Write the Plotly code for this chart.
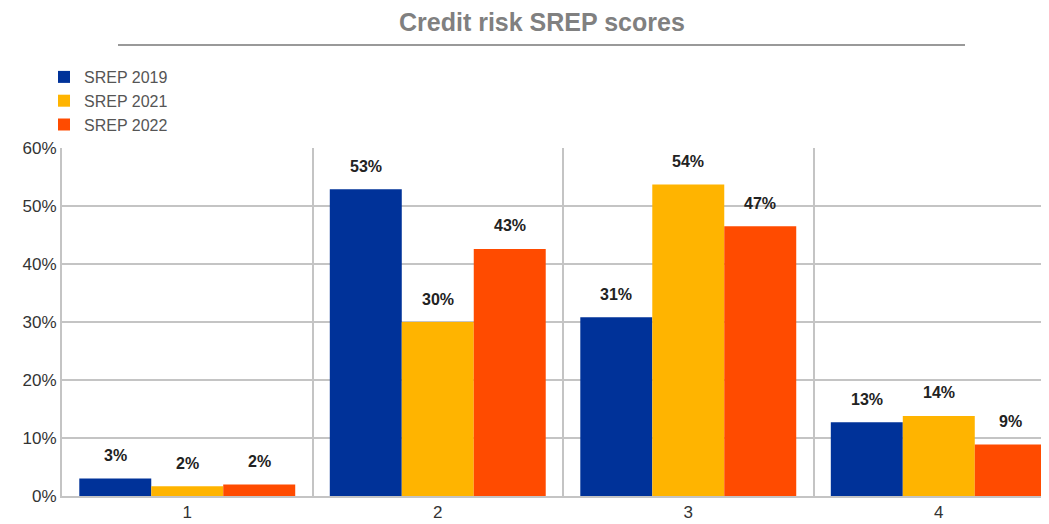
import plotly.graph_objects as go

scores = ["1", "2", "3", "4"]
series_names = ["SREP 2019", "SREP 2021", "SREP 2022"]
srep_2019 = [3.0, 52.9, 30.8, 12.7]
srep_2021 = [1.7, 30.0, 53.7, 13.8]
srep_2022 = [2.0, 42.6, 46.5, 8.9]
labels_2019 = ["3%", "53%", "31%", "13%"]
labels_2021 = ["2%", "30%", "54%", "14%"]
labels_2022 = ["2%", "43%", "47%", "9%"]

colors = ["#003299", "#FFB400", "#FF4B00"]
series = [srep_2019, srep_2021, srep_2022]
labels = [labels_2019, labels_2021, labels_2022]

FONT = "Liberation Sans, Arial, sans-serif"

# the html page has an 8px body margin, so the figure is drawn 8px smaller
W, H = 1041, 516

fig = go.Figure()
for name, vals, col in zip(series_names, series, colors):
    fig.add_trace(
        go.Bar(
            x=scores,
            y=vals,
            name=name,
            marker=dict(color=col, line=dict(width=0)),
            hovertemplate="%{x}: %{y:.0f}%<extra>" + name + "</extra>",
        )
    )

# value labels above the bars, a bit higher than plotly's own outside text
annotations = []
shifts = [-72, 0, 72]
for vals, labs, dx in zip(series, labels, shifts):
    for i, (v, t) in enumerate(zip(vals, labs)):
        annotations.append(
            dict(
                x=i,
                y=v,
                xref="x",
                yref="y",
                text="<b>" + t + "</b>",
                showarrow=False,
                xshift=dx,
                yshift=23,
                yanchor="middle",
                font=dict(family=FONT, size=16, color="#222222"),
            )
        )

# title (plot area is 987 x 348 px)
annotations.append(
    dict(
        xref="paper",
        yref="paper",
        x=480 / 987,
        y=474 / 348,
        xanchor="center",
        yanchor="middle",
        borderpad=0,
        text="<b>Credit risk SREP scores</b>",
        showarrow=False,
        font=dict(family=FONT, size=25, color="#808080"),
    )
)

fig.update_layout(
    width=W,
    height=H,
    margin=dict(l=54, r=0, t=140, b=28, autoexpand=False),
    paper_bgcolor="white",
    plot_bgcolor="white",
    barmode="group",
    bargap=0.138,
    bargroupgap=0,
    font=dict(family=FONT, size=16, color="#333333"),
    annotations=annotations,
    legend=dict(
        x=36 / W,
        y=1 - 52 / H,
        xref="container",
        yref="container",
        xanchor="left",
        yanchor="top",
        font=dict(family=FONT, size=16, color="#555555"),
        itemwidth=30,
        tracegroupgap=0,
        bgcolor="rgba(0,0,0,0)",
    ),
    showlegend=True,
    xaxis=dict(
        type="category",
        range=[-0.5, 3.44],
        tickson="boundaries",
        showgrid=True,
        gridcolor="#c4c4c4",
        gridwidth=2,
        showline=True,
        linecolor="#c4c4c4",
        linewidth=2,
        ticks="",
        tickfont=dict(size=17, color="#333333"),
        fixedrange=True,
    ),
    yaxis=dict(
        range=[0, 60],
        dtick=10,
        ticksuffix="%",
        showgrid=True,
        gridcolor="#c4c4c4",
        gridwidth=2,
        showline=True,
        linecolor="#c4c4c4",
        linewidth=2,
        zeroline=False,
        ticks="",
        tickfont=dict(size=17, color="#333333"),
        fixedrange=True,
    ),
    shapes=[
        dict(
            type="line",
            xref="paper",
            yref="paper",
            x0=56 / 987,
            x1=903 / 987,
            y0=451 / 348,
            y1=451 / 348,
            line=dict(color="#999999", width=2),
        )
    ],
)

fig.write_html("out.html")
